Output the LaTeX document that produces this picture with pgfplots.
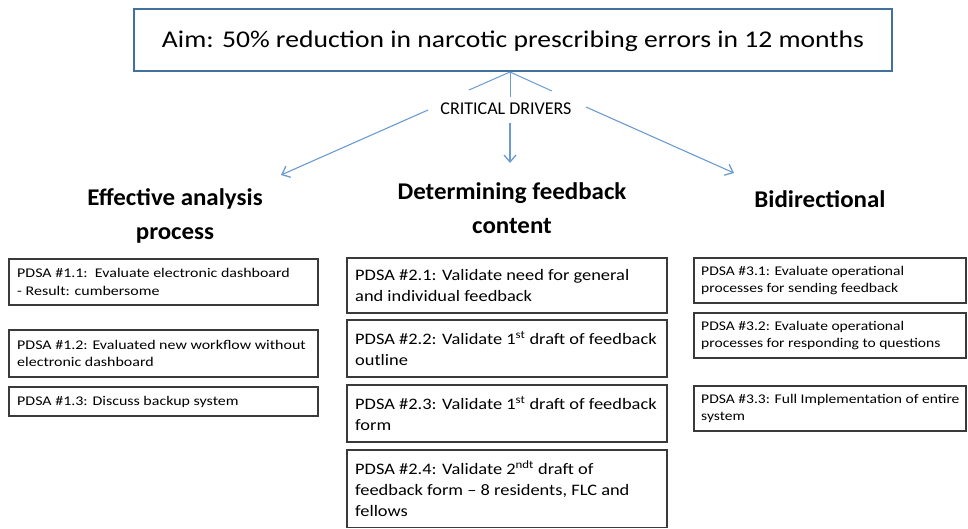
\documentclass[border=0pt]{standalone}
\usepackage{pgfplots}
\pgfplotsset{compat=1.18}
\usetikzlibrary{arrows.meta}
\usepackage{fontspec}
\setmainfont{Carlito}
\newfontfamily\aimfont[FakeStretch=1.15,Ligatures=TeX]{Carlito}
\newfontfamily\leftfont[FakeStretch=1.2,Ligatures=TeX]{Carlito}
\newfontfamily\midfont[FakeStretch=1.15,Ligatures=TeX]{Carlito}
\newfontfamily\rightfont[FakeStretch=1.17,Ligatures=TeX]{Carlito}
\newfontfamily\headfont[FakeStretch=1.04,Ligatures=TeX]{Carlito}
\definecolor{boxblue}{HTML}{41719C}
\definecolor{arrowblue}{HTML}{6A9BD2}
\definecolor{edge}{HTML}{3A3A3A}
\newcommand{\fs}[1]{\fontsize{#1}{1.32\dimexpr#1pt\relax}\selectfont}
\begin{document}
\begin{tikzpicture}
\begin{axis}[
  scale only axis, width=968pt, height=528pt,
  xmin=0, xmax=968, ymin=0, ymax=528, y dir=reverse,
  axis lines=none, clip=false,
]
\path (rel axis cs:0,0) rectangle (rel axis cs:1,1);
% Aim box
\draw[boxblue, line width=2.6pt] (axis cs:134,9) rectangle (axis cs:892,71);
\node[font=\aimfont\fs{24}] at (axis cs:513,41) {Aim: 50\% reduction in narcotic prescribing errors in 12 months};
% connectors
\addplot[arrowblue, line width=1pt] coordinates {(510,72) (469,90)};
\addplot[arrowblue, line width=1pt] coordinates {(510,72) (552,91)};
\addplot[arrowblue, line width=1pt] coordinates {(510,72) (510,97)};
\node[font=\fs{18}] at (axis cs:506,109) {CRITICAL DRIVERS};
\addplot[arrowblue, line width=1.1pt, -{Straight Barb[length=7pt,width=12pt,line width=1.3pt]}] coordinates {(428,110) (281,175)};
\addplot[arrowblue, line width=1.1pt, -{Straight Barb[length=7pt,width=12pt,line width=1.3pt]}] coordinates {(510,123) (510,163)};
\addplot[arrowblue, line width=1.1pt, -{Straight Barb[length=7pt,width=12pt,line width=1.3pt]}] coordinates {(586,107) (734,173)};
% headings
\node[font=\headfont\bfseries\fs{24}, align=center] at (axis cs:175,216) {Effective analysis\\[2pt]process};
\node[font=\headfont\bfseries\fs{24}, align=center] at (axis cs:512,208) {Determining feedback\\[2pt]content};
\node[font=\headfont\bfseries\fs{24}] at (axis cs:820,199) {Bidirectional};
% left column
\draw[edge, line width=1.4pt] (axis cs:9,259) rectangle (axis cs:318,305);
\node[font=\leftfont\fs{13.3}, align=left, anchor=west, inner sep=0pt] at (axis cs:17,282) {PDSA \#1.1:\ \ Evaluate electronic dashboard\\- Result: cumbersome};
\draw[edge, line width=1.4pt] (axis cs:9,330) rectangle (axis cs:318,377);
\node[font=\leftfont\fs{13.3}, align=left, anchor=west, inner sep=0pt] at (axis cs:17,353.5) {PDSA \#1.2: Evaluated new workflow without\\electronic dashboard};
\draw[edge, line width=1.4pt] (axis cs:9,387) rectangle (axis cs:318,416);
\node[font=\leftfont\fs{13.3}, align=left, anchor=west, inner sep=0pt] at (axis cs:17,401.5) {PDSA \#1.3: Discuss backup system};
% middle column
\draw[edge, line width=1.4pt] (axis cs:347,258) rectangle (axis cs:667,313);
\node[font=\midfont\fs{16}, align=left, anchor=west, inner sep=0pt] at (axis cs:355,285.5) {PDSA \#2.1: Validate need for general\\and individual feedback};
\draw[edge, line width=1.4pt] (axis cs:347,320) rectangle (axis cs:667,377);
\node[font=\midfont\fs{16}, align=left, anchor=west, inner sep=0pt] at (axis cs:355,348.5) {PDSA \#2.2: Validate 1\textsuperscript{st} draft of feedback\\outline};
\draw[edge, line width=1.4pt] (axis cs:347,385) rectangle (axis cs:667,442);
\node[font=\midfont\fs{16}, align=left, anchor=west, inner sep=0pt] at (axis cs:355,413.5) {PDSA \#2.3: Validate 1\textsuperscript{st} draft of feedback\\form};
\draw[edge, line width=1.4pt] (axis cs:347,450) rectangle (axis cs:667,527.3);
\node[font=\midfont\fs{16}, align=left, anchor=west, inner sep=0pt] at (axis cs:355,488.5) {PDSA \#2.4: Validate 2\textsuperscript{ndt} draft of\\feedback form – 8 residents, FLC and\\fellows};
% right column
\draw[edge, line width=1.4pt] (axis cs:694,258) rectangle (axis cs:966,303);
\node[font=\rightfont\fs{13.3}, align=left, anchor=west, inner sep=0pt] at (axis cs:701,280.5) {PDSA \#3.1: Evaluate operational\\processes for sending feedback};
\draw[edge, line width=1.4pt] (axis cs:694,313) rectangle (axis cs:966,358);
\node[font=\rightfont\fs{13.3}, align=left, anchor=west, inner sep=0pt] at (axis cs:701,335.5) {PDSA \#3.2: Evaluate operational\\processes for responding to questions};
\draw[edge, line width=1.4pt] (axis cs:694,386) rectangle (axis cs:966,431);
\node[font=\rightfont\fs{13.3}, align=left, anchor=west, inner sep=0pt] at (axis cs:701,408.5) {PDSA \#3.3: Full Implementation of entire\\system};
\end{axis}
\end{tikzpicture}
\end{document}
